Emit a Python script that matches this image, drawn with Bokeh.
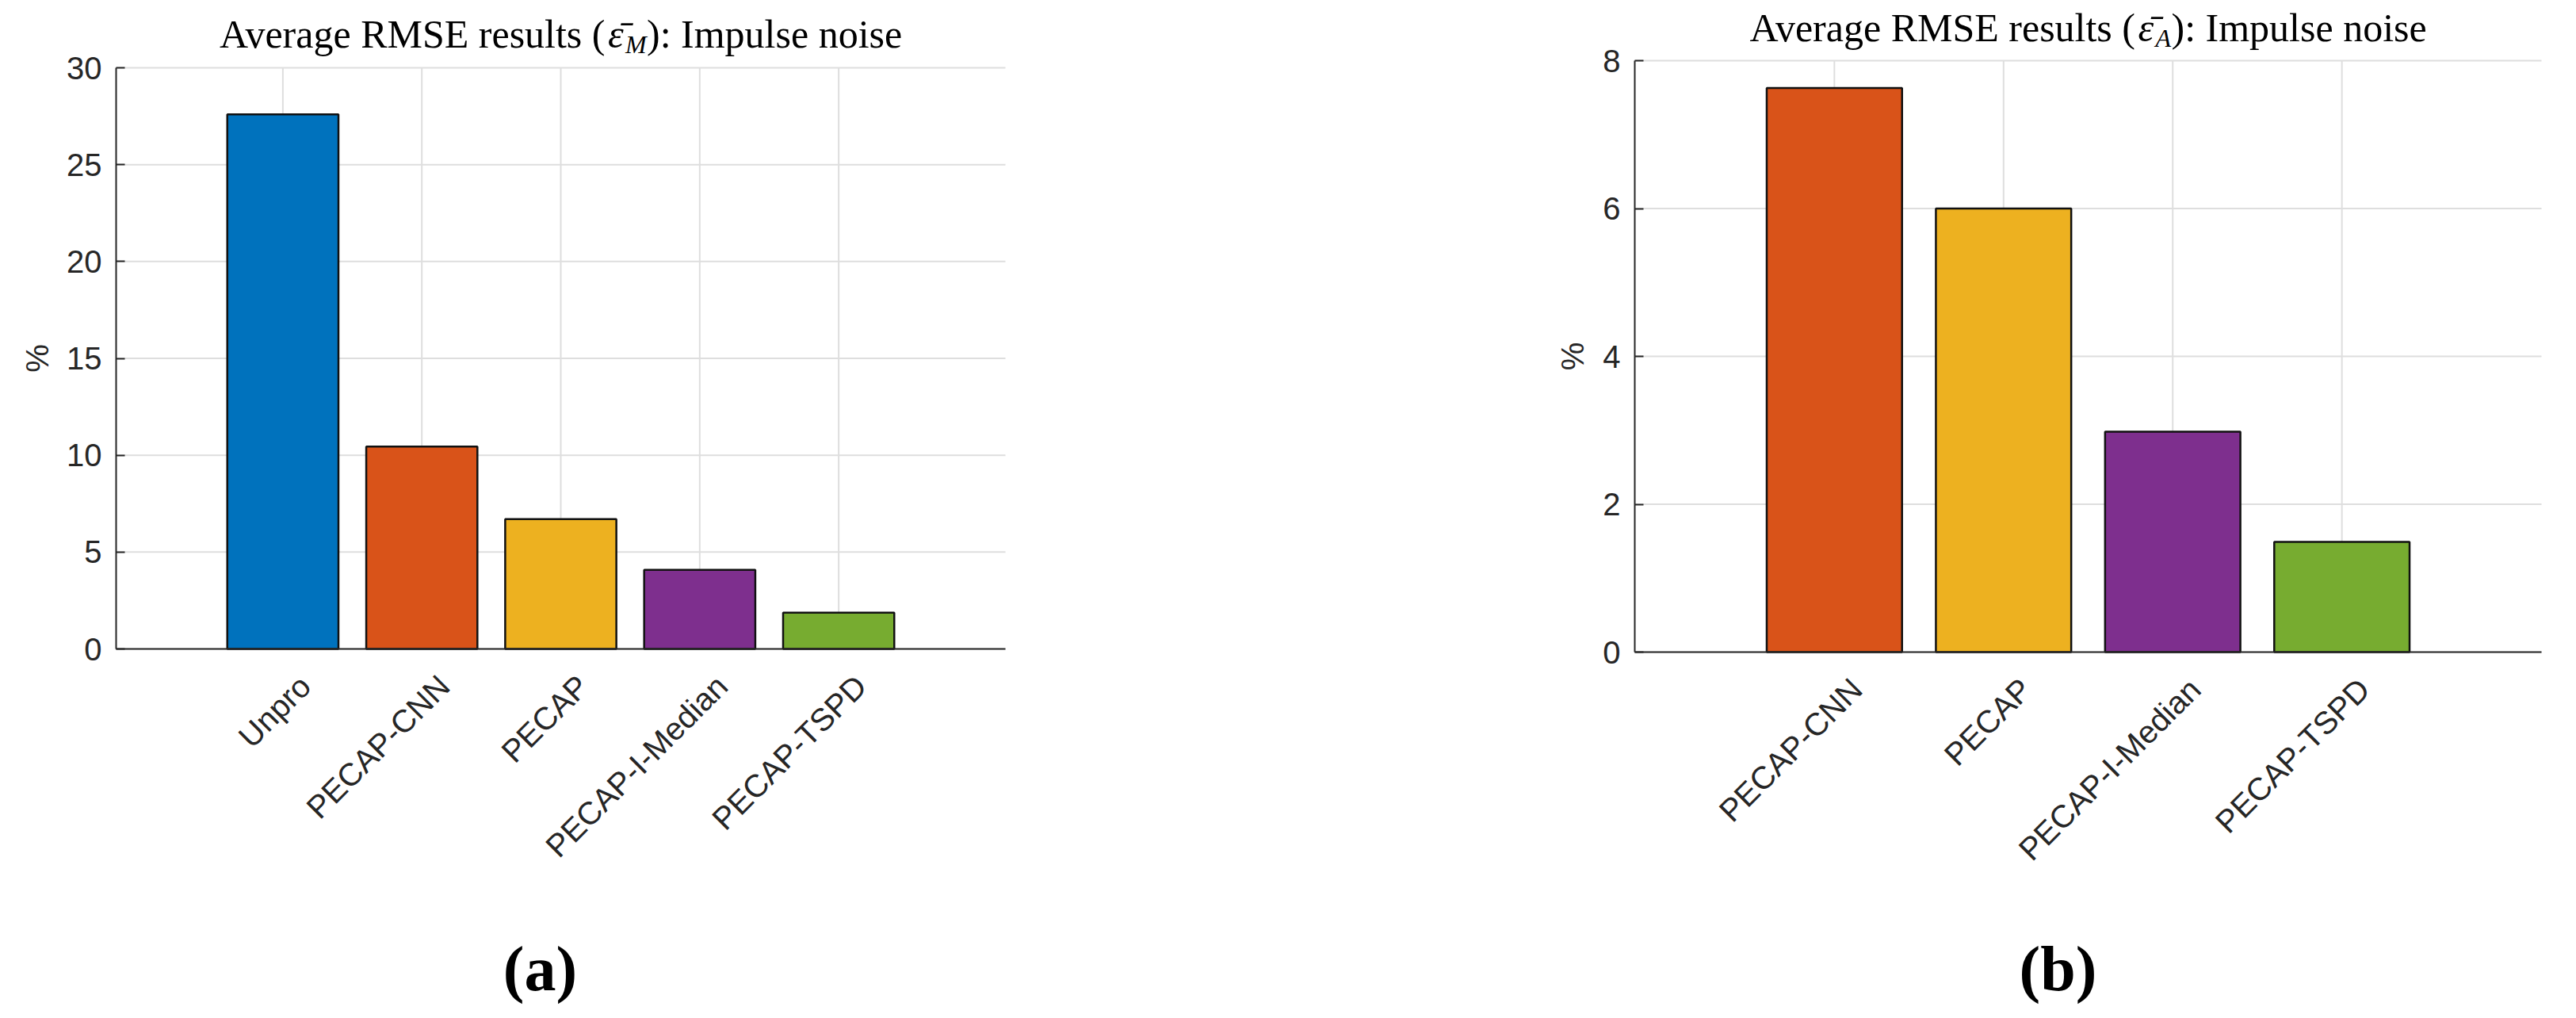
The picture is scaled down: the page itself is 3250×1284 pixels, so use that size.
from math import pi
from bokeh.plotting import figure
from bokeh.layouts import row
from bokeh.models import Range1d, FixedTicker, Label
from bokeh.embed import file_html
from bokeh.resources import INLINE

# ---------------- data ----------------
methods_m = ["Unpro", "PECAP-CNN", "PECAP", "PECAP-I-Median", "PECAP-TSPD"]
rmse_m = [27.6, 10.45, 6.7, 4.08, 1.87]
colors_m = ["#0072BD", "#D95319", "#EDB120", "#7E2F8E", "#77AC30"]
yticks_m = [0, 5, 10, 15, 20, 25, 30]

methods_a = ["PECAP-CNN", "PECAP", "PECAP-I-Median", "PECAP-TSPD"]
rmse_a = [7.63, 6.0, 2.98, 1.49]
colors_a = ["#D95319", "#EDB120", "#7E2F8E", "#77AC30"]
yticks_a = [0, 2, 4, 6, 8]

title_main = "Average RMSE results ("
title_eps = "\u03b5\u0304"
title_tail = "): Impulse noise"
y_label = "%"

SANS = "Liberation Sans"
SERIF = "Liberation Serif"
DARK = "#262626"
GRID = "#dedede"


def make_panel(methods, vals, colors, yticks, ymax, pad, width, height,
               ax_l, ax_r, ax_t, ax_b, sub, sub_w, pct_dx, ty,
               caption, cap_dx, cap_dy):
    n = len(methods)
    pos = list(range(1, n + 1))
    x_lo, x_hi = 1 - pad, n + pad
    # map the pixel box of the axes onto the data limits; the frame is the whole figure
    ppx = (ax_r - ax_l) / (x_hi - x_lo)
    ppy = (ax_b - ax_t) / ymax
    xr = Range1d(x_lo - ax_l / ppx, x_hi + (width - ax_r) / ppx)
    yr = Range1d(-(height - ax_b) / ppy, ymax + ax_t / ppy)
    p = figure(width=width, height=height, x_range=xr, y_range=yr,
               output_backend="svg", toolbar_location=None,
               min_border_left=0, min_border_right=0,
               min_border_top=0, min_border_bottom=0)
    p.outline_line_color = None
    p.background_fill_color = "white"
    p.border_fill_color = "white"
    p.xgrid.visible = False
    p.ygrid.visible = False

    # grid lines (under the bars)
    vg = p.segment(x0=pos, y0=[0] * n, x1=pos, y1=[ymax] * n,
                   line_color=GRID, line_width=2)
    hg = p.segment(x0=[x_lo] * len(yticks), y0=yticks,
                   x1=[x_hi] * len(yticks), y1=yticks,
                   line_color=GRID, line_width=2)
    vg.level = "underlay"
    hg.level = "underlay"

    p.vbar(x=pos, top=vals, width=0.8, fill_color=colors,
           line_color="#111111", line_width=2.5)

    # axes
    shift = 28 / ppx
    tick_pos = [k + shift for k in pos]
    p.xaxis.fixed_location = 0
    p.xaxis.bounds = (x_lo, x_hi)
    p.xaxis.ticker = FixedTicker(ticks=tick_pos)
    p.xaxis.major_label_overrides = {t: m for t, m in zip(tick_pos, methods)}
    p.xaxis.major_label_orientation = pi / 4
    p.yaxis.fixed_location = x_lo
    p.yaxis.bounds = (0, ymax)
    p.yaxis.ticker = FixedTicker(ticks=yticks)
    for ax in (p.xaxis[0], p.yaxis[0]):
        ax.axis_line_color = DARK
        ax.axis_line_width = 2
        ax.major_tick_line_color = DARK
        ax.major_tick_line_width = 2
        ax.minor_tick_line_color = None
        ax.major_label_text_font = SANS
        ax.major_label_text_font_size = "40px"
        ax.major_label_text_color = DARK
    p.xaxis.major_tick_in = 0
    p.xaxis.major_tick_out = 0
    p.xaxis.major_label_standoff = 40
    p.yaxis.major_tick_in = 11
    p.yaxis.major_tick_out = 0
    p.yaxis.major_label_standoff = 18

    p.add_layout(Label(x=x_lo, y=ymax / 2.0, x_offset=pct_dx, text=y_label,
                       angle=pi / 2, text_font=SANS, text_font_size="40px",
                       text_color=DARK, text_align="center",
                       text_baseline="middle"))

    # title made of pieces so the subscript can be smaller and lower
    xc = (x_lo + x_hi) / 2.0
    fs = 50
    w_main = 490
    w_eps = 22
    total = w_main + w_eps + sub_w + 322
    x0 = -total / 2.0
    pieces = [
        (title_main, x0, ty, f"{fs}px", "normal"),
        (title_eps, x0 + w_main, ty, f"{fs}px", "italic"),
        (sub, x0 + w_main + w_eps, ty - 13, "32px", "italic"),
        (title_tail, x0 + w_main + w_eps + sub_w, ty, f"{fs}px", "normal"),
    ]
    for txt, dx, dy, size, style in pieces:
        p.add_layout(Label(x=xc, y=ymax, x_offset=dx, y_offset=dy, text=txt,
                           text_font=SERIF, text_font_size=size,
                           text_font_style=style, text_color="black",
                           text_align="left", text_baseline="middle"))

    # sub-figure caption
    p.add_layout(Label(x=xc, y=0, x_offset=cap_dx, y_offset=cap_dy, text=caption,
                       text_font=SERIF, text_font_size="80px",
                       text_font_style="bold", text_color="black",
                       text_align="center", text_baseline="middle"))
    return p


p1 = make_panel(methods_m, rmse_m, colors_m, yticks_m, 30, 1.2,
                1908, 1276, 146, 1268, 85, 818, "M", 27, -100, 43,
                "(a)", -26, -403)
p2 = make_panel(methods_a, rmse_a, colors_a, yticks_a, 8, 1.18,
                1332, 1276, 154, 1298, 76, 822, "A", 20, -79, 42,
                "(b)", -38, -399)

layout = row(p1, p2)
open("out.html", "w").write(file_html(layout, INLINE))
